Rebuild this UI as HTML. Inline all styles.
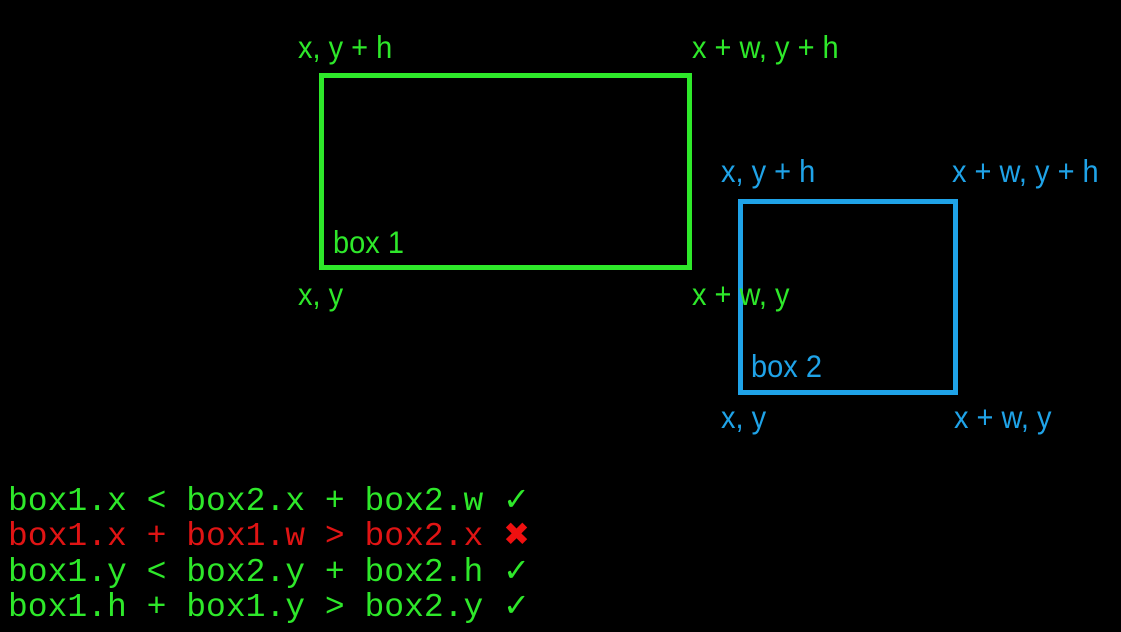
<!DOCTYPE html>
<html><head><style>
body{margin:0;width:1121px;height:632px;background:#000;overflow:hidden;position:relative;font-family:"Liberation Sans",sans-serif}
.t{position:absolute;font-size:29px;line-height:1;white-space:nowrap;transform:scaleY(1.08);transform-origin:0 0}
.g{color:#2ee82a}.b{color:#1fa3e8}.r{color:#e01414}
.box{position:absolute;border:5px solid}
.c{position:absolute;left:8px;font-family:"Liberation Mono",monospace;font-size:33px;line-height:33px;height:33px;white-space:pre}
.k{font-family:"DejaVu Sans",sans-serif;font-size:32px;font-weight:bold;line-height:0}
</style></head><body>
<div class="box" style="left:319px;top:73px;width:363px;height:187px;border-color:#2ee82a"></div>
<div class="box" style="left:738px;top:199px;width:210px;height:186px;border-color:#1fa3e8"></div>
<div class="t g" style="left:298px;top:33px">x, y + h</div>
<div class="t g" style="left:692px;top:33px">x + w, y + h</div>
<div class="t g" style="left:333px;top:228px">box 1</div>
<div class="t g" style="left:298px;top:280px">x, y</div>
<div class="t g" style="left:692px;top:280px">x + w, y</div>
<div class="t b" style="left:721px;top:157px">x, y + h</div>
<div class="t b" style="left:952px;top:157px">x + w, y + h</div>
<div class="t b" style="left:751px;top:352px">box 2</div>
<div class="t b" style="left:721px;top:403px">x, y</div>
<div class="t b" style="left:954px;top:403px">x + w, y</div>
<div class="c g" style="top:485px">box1.x &lt; box2.x + box2.w <span class="k">✓</span></div>
<div class="c r" style="top:520px">box1.x + box1.w &gt; box2.x <span class="k" style="color:#f01010">✖</span></div>
<div class="c g" style="top:556px">box1.y &lt; box2.y + box2.h <span class="k">✓</span></div>
<div class="c g" style="top:591px">box1.h + box1.y &gt; box2.y <span class="k">✓</span></div>
</body></html>
